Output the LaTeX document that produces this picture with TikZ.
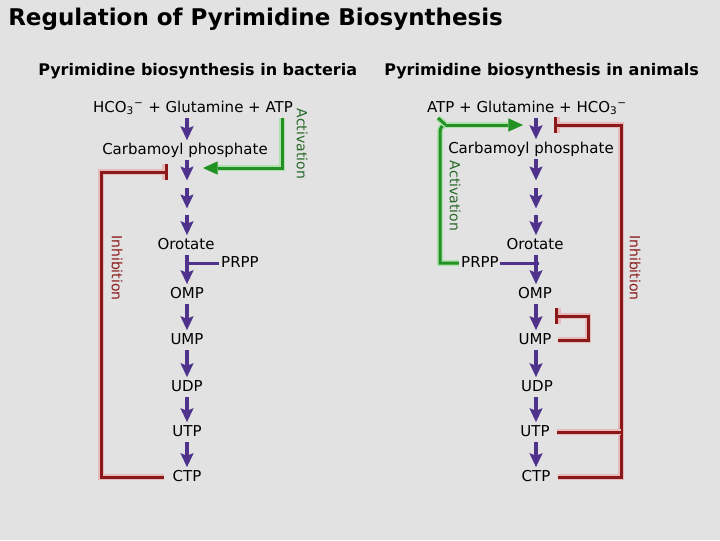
\documentclass[tikz,border=0pt]{standalone}
\usepackage{fontspec}
\setmainfont{DejaVu Sans}
\usetikzlibrary{arrows.meta,calc}
\definecolor{bgc}{RGB}{226,226,226}
\definecolor{purp}{RGB}{78,50,140}
\definecolor{redc}{RGB}{140,25,25}
\definecolor{redh}{RGB}{232,185,185}
\definecolor{grn}{RGB}{35,145,35}
\definecolor{grnh}{RGB}{175,225,175}
\definecolor{grntxt}{RGB}{40,105,40}
\begin{document}
\begin{tikzpicture}[x=0.75pt,y=-0.75pt,
  lbl/.style={inner sep=0pt, font=\fontsize{11.25}{13}\selectfont, text height=8.25pt, text depth=2.25pt},
  ttl/.style={anchor=west, inner sep=0pt, font=\bfseries\fontsize{17.25}{20}\selectfont},
  sub/.style={anchor=west, inner sep=0pt, font=\bfseries\fontsize{12}{14}\selectfont},
  vlab/.style={inner sep=0pt, rotate=-90, font=\fontsize{10.5}{12}\selectfont},
  parr/.style={draw=purp, line width=3pt, -{Stealth[width=10pt,length=10.5pt,inset=2pt,line width=0pt]}, shorten <=2pt, shorten >=2pt},
  pline/.style={draw=purp, line width=2.25pt},
  rline/.style={draw=redc, line width=2.25pt, line join=miter, preaction={draw=redh, line width=4.5pt}},
  rbar/.style={rline, -{Bar[width=12pt]}},
  gline/.style={draw=grn, line width=2.25pt, preaction={draw=grnh, line width=4.5pt}},
  garr/.style={gline, -{Triangle[width=10pt,length=11pt,line width=0pt]}}
]
\fill[bgc] (0,0) rectangle (720,540);
\useasboundingbox (0,0) rectangle (720,540);

% titles
\node[ttl] (title) at (8,19) {Regulation of Pyrimidine Biosynthesis};
\node[sub] (subB) at (38,71) {Pyrimidine biosynthesis in bacteria};
\node[sub] (subA) at (384,71) {Pyrimidine biosynthesis in animals};

% ---------------- bacteria ----------------
\coordinate (L) at (187,0);
\node[lbl] (hcoL) at (193,108) {HCO\textsubscript{3}\textsuperscript{−} + Glutamine + ATP};
\node[lbl] (carbL) at (185,150) {Carbamoyl phosphate};
\coordinate (l1) at (187,183);
\coordinate (l2a) at (187,185);
\coordinate (l2b) at (187,211);
\coordinate (l3a) at (187,212);
\node[lbl] (oroL) at (186,245) {Orotate};
\node[lbl] (prppL) at (240,263) {PRPP};
\node[lbl] (ompL) at (187,294) {OMP};
\node[lbl] (umpL) at (187,340) {UMP};
\node[lbl] (udpL) at (187,387) {UDP};
\node[lbl] (utpL) at (187,432) {UTP};
\node[lbl] (ctpL) at (187,477) {CTP};

\draw[parr] (hcoL.south -| L) -- (carbL.north -| L);
\draw[parr] (carbL.south -| L) -- (l1);
\draw[parr] (l2a) -- (l2b);
\draw[parr] (l3a) -- (oroL.north -| L);
\draw[parr] (oroL.south -| L) -- (ompL.north -| L);
\draw[pline] (187,263) -- ([xshift=-1.5pt]prppL.west);
\draw[parr] (ompL.south -| L) -- (umpL.north -| L);
\draw[parr] (umpL.south -| L) -- (udpL.north -| L);
\draw[parr] (udpL.south -| L) -- (utpL.north -| L);
\draw[parr] (utpL.south -| L) -- (ctpL.north -| L);

% activation (green)
\coordinate (gL) at (282,118);
\draw[garr] (gL) -- (282,168) -- (203,168);
\node[vlab, text=grntxt] (actL) at (302,144) {Activation};

% inhibition (red)
\draw[rbar] ([xshift=-6pt]ctpL.west) -- (101,477) -- (101,172) -- (168,172);
\node[vlab, text=redc] (inhL) at (117,268) {Inhibition};

% ---------------- animals ----------------
\coordinate (R) at (536,0);
\node[lbl] (hcoR) at (527,108) {ATP + Glutamine + HCO\textsubscript{3}\textsuperscript{−}};
\node[lbl] (carbR) at (531,149) {Carbamoyl phosphate};
\coordinate (r1) at (536,183);
\coordinate (r2a) at (536,185);
\coordinate (r2b) at (536,211);
\coordinate (r3a) at (536,212);
\node[lbl] (oroR) at (535,245) {Orotate};
\node[lbl] (prppR) at (480,263) {PRPP};
\node[lbl] (ompR) at (535,294) {OMP};
\node[lbl] (umpR) at (535,340) {UMP};
\node[lbl] (udpR) at (537,387) {UDP};
\node[lbl] (utpR) at (535,432) {UTP};
\node[lbl] (ctpR) at (536,477) {CTP};

\draw[parr] (hcoR.south -| R) -- (carbR.north -| R);
\draw[parr] (carbR.south -| R) -- (r1);
\draw[parr] (r2a) -- (r2b);
\draw[parr] (r3a) -- (oroR.north -| R);
\draw[parr] (oroR.south -| R) -- (ompR.north -| R);
\draw[pline] ([xshift=0.75pt]prppR.east) -- (539,263);
\draw[parr] (ompR.south -| R) -- (umpR.north -| R);
\draw[parr] (umpR.south -| R) -- (udpR.north -| R);
\draw[parr] (udpR.south -| R) -- (utpR.north -| R);
\draw[parr] (utpR.south -| R) -- (ctpR.north -| R);

% activation (green)
\coordinate (gj) at (446,125);
\draw[gline] ([xshift=-1.5pt]prppR.west) -- (440,263) -- (440,132) .. controls (440,128) and (442,125) .. (gj);
\draw[gline] (gj) -- (438,118);
\draw[garr] (gj) -- (523,125);
\node[vlab, text=grntxt] (actR) at (455,196) {Activation};

% inhibition (red)
\draw[rbar] ([xshift=5.25pt]ctpR.east) -- (621,477) -- (621,125) -- (554,125);
\draw[rline] ([xshift=5.25pt]utpR.east) -- (621,432);
\draw[rbar] ([xshift=4.5pt]umpR.east) -- (588,340) -- (588,316) -- (555,316);
\node[vlab, text=redc] (inhR) at (635,268) {Inhibition};
\end{tikzpicture}
\end{document}
